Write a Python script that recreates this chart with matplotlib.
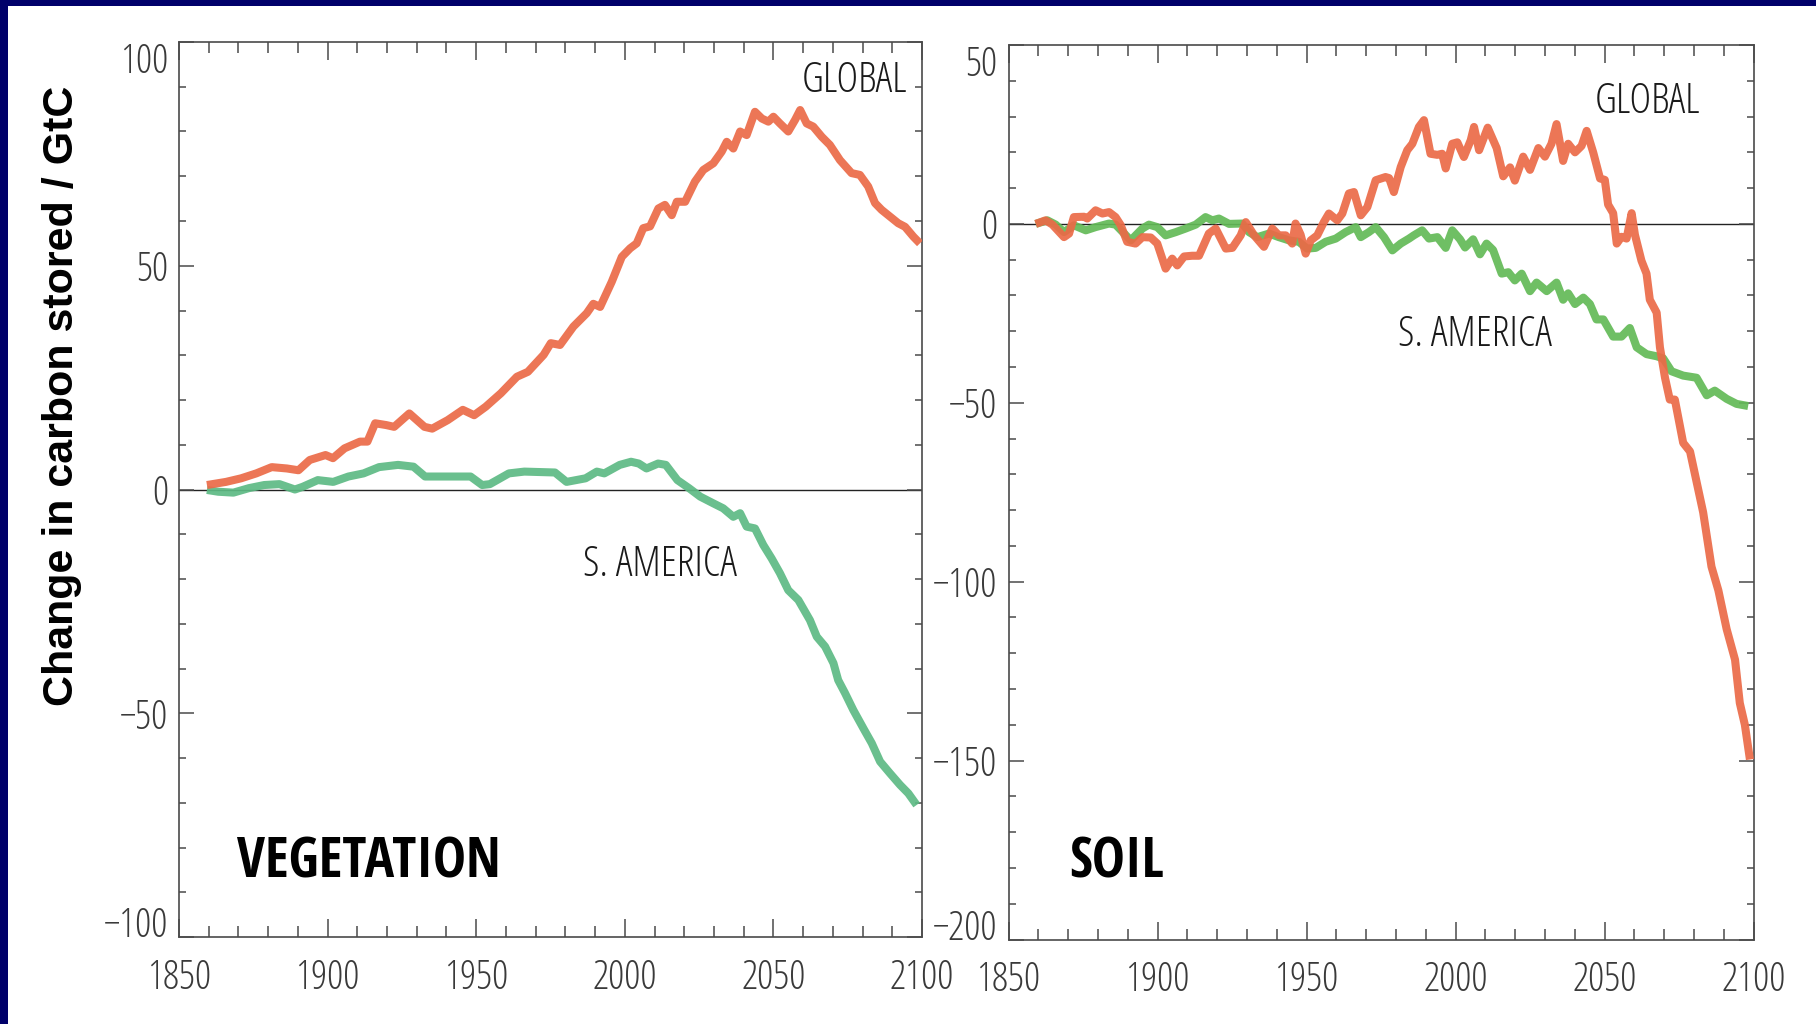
import matplotlib
matplotlib.use('Agg')
import matplotlib.pyplot as plt
from matplotlib.ticker import MultipleLocator
from matplotlib.patches import Rectangle

# ---------------- data ----------------
veg_global_years = [1859.4, 1865.8, 1870.9, 1876.0, 1881.2, 1886.3, 1890.2, 1894.0, 1899.3, 1901.8,
                    1905.7, 1910.9, 1913.4, 1916.0, 1919.7, 1922.4, 1927.5, 1932.6, 1935.2, 1940.4,
                    1945.5, 1949.3, 1953.2, 1958.3, 1963.7, 1967.4, 1972.7, 1975.1, 1978.2, 1982.7,
                    1987.2, 1989.4, 1991.7, 1995.6, 1999.0, 2001.8, 2004.0, 2006.2, 2008.5, 2011.3,
                    2013.5, 2015.8, 2017.5, 2020.3, 2023.6, 2026.4, 2029.8, 2032.6, 2034.3, 2036.5,
                    2038.8, 2041.0, 2043.8, 2046.1, 2048.3, 2050.0, 2052.2, 2055.0, 2057.3, 2059.0,
                    2061.2, 2063.4, 2066.3, 2069.0, 2072.4, 2076.3, 2079.1, 2081.9, 2084.2, 2086.4,
                    2089.2, 2092.0, 2094.3, 2097.1, 2099.3]
veg_global = [1.0, 1.7, 2.5, 3.6, 5.0, 4.7, 4.3, 6.6, 7.7, 7.0,
              9.2, 10.7, 10.7, 14.8, 14.4, 14.0, 17.0, 14.0, 13.6, 15.5,
              17.8, 16.6, 18.5, 21.5, 25.2, 26.3, 30.1, 32.7, 32.3, 36.4,
              39.4, 41.5, 40.8, 46.4, 52.0, 53.9, 55.0, 58.4, 58.8, 62.8,
              63.6, 61.3, 64.3, 64.3, 68.8, 71.4, 72.9, 75.5, 77.7, 76.2,
              80.0, 79.2, 84.4, 82.9, 82.2, 83.3, 81.8, 80.0, 82.6, 84.8,
              81.8, 81.1, 78.8, 77.0, 73.6, 70.7, 70.3, 67.7, 64.0, 62.5,
              61.0, 59.5, 58.7, 56.5, 55.0]

veg_sam_years = [1859.4, 1863.2, 1868.3, 1873.5, 1878.7, 1883.8, 1889.0, 1891.6, 1896.7, 1901.9,
                 1907.0, 1912.1, 1917.3, 1923.7, 1928.9, 1932.8, 1940.4, 1948.1, 1952.0, 1954.6,
                 1961.0, 1966.2, 1976.5, 1980.4, 1986.8, 1990.6, 1993.1, 1998.3, 2002.1, 2004.7,
                 2007.3, 2011.2, 2013.8, 2017.7, 2021.6, 2025.4, 2029.8, 2033.1, 2036.5, 2038.8,
                 2041.0, 2043.8, 2046.6, 2049.4, 2052.2, 2055.0, 2058.4, 2062.3, 2064.6, 2067.4,
                 2070.2, 2071.8, 2074.1, 2076.9, 2080.3, 2083.1, 2085.9, 2089.2, 2092.6, 2095.4,
                 2098.2]
veg_sam = [-0.1, -0.5, -0.7, 0.3, 1.0, 1.2, 0.0, 0.6, 2.1, 1.7,
           2.9, 3.6, 5.0, 5.5, 5.1, 2.9, 2.9, 2.9, 1.0, 1.2,
           3.6, 4.0, 3.8, 1.7, 2.5, 4.0, 3.6, 5.5, 6.2, 5.8,
           4.7, 5.8, 5.5, 2.1, 0.3, -1.6, -3.1, -4.2, -6.1, -5.3,
           -8.3, -8.7, -12.4, -15.4, -18.7, -22.5, -24.7, -29.2, -32.9, -35.1,
           -38.8, -42.6, -45.5, -49.3, -53.4, -56.7, -60.8, -63.4, -66.0, -67.9,
           -70.5]

soil_global_years = [1859.1, 1862.4, 1864.7, 1868.6, 1870.3, 1871.9, 1875.3, 1876.4, 1879.2, 1881.5,
                     1883.7, 1885.9, 1887.6, 1889.8, 1892.6, 1894.9, 1897.7, 1899.9, 1902.7, 1904.9,
                     1906.6, 1908.9, 1911.6, 1913.9, 1917.2, 1919.5, 1922.9, 1925.1, 1927.9, 1929.6,
                     1932.4, 1935.7, 1938.5, 1940.7, 1943.0, 1945.2, 1946.3, 1948.0, 1949.7, 1951.4,
                     1953.6, 1955.8, 1957.5, 1960.3, 1962.0, 1964.2, 1965.9, 1968.2, 1970.4, 1973.2,
                     1976.5, 1977.7, 1979.3, 1981.6, 1983.8, 1985.5, 1987.7, 1989.4, 1991.6, 1993.9,
                     1995.5, 1996.7, 1998.9, 2000.6, 2002.8, 2005.1, 2006.2, 2007.9, 2010.8, 2013.8,
                     2016.0, 2018.3, 2019.9, 2022.7, 2025.0, 2027.8, 2030.0, 2032.2, 2033.9, 2036.1,
                     2037.8, 2040.1, 2042.3, 2044.0, 2046.2, 2048.5, 2050.1, 2051.2, 2052.9, 2054.1,
                     2055.7, 2057.4, 2059.1, 2060.2, 2062.4, 2064.1, 2065.2, 2067.5, 2068.6, 2070.3,
                     2071.9, 2073.6, 2076.4, 2078.7, 2080.9, 2083.1, 2085.9, 2088.2, 2091.0, 2093.8,
                     2095.4, 2097.1, 2098.8]
soil_global = [0.0, 1.0, -0.2, -3.7, -2.7, 1.9, 2.0, 1.5, 3.8, 2.9,
               3.3, 1.9, -0.3, -5.0, -5.5, -3.7, -3.8, -5.5, -12.5, -9.7,
               -11.6, -9.1, -8.9, -8.9, -2.7, -1.3, -6.9, -6.7, -3.2, 0.5,
               -3.2, -6.4, -1.3, -3.2, -3.2, -5.5, 0.1, -3.0, -8.3, -4.6,
               -3.2, 0.5, 2.9, 1.0, 2.9, 8.5, 8.9, 2.4, 4.7, 12.2,
               13.1, 12.8, 8.9, 15.9, 20.6, 22.4, 27.1, 29.0, 19.6, 19.3,
               19.6, 15.5, 22.4, 22.8, 18.7, 23.4, 27.1, 20.6, 26.9, 21.2,
               13.3, 15.8, 12.1, 18.8, 15.1, 21.2, 18.8, 22.4, 27.9, 17.6,
               22.4, 20.0, 21.8, 26.0, 20.0, 12.7, 12.3, 5.4, 3.0, -5.5,
               -3.6, -4.1, 3.0, -3.0, -10.3, -13.9, -21.2, -24.8, -34.5, -43.0,
               -49.1, -49.1, -61.2, -63.6, -72.1, -80.6, -95.8, -102.4, -113.3, -121.8,
               -133.9, -140.0, -149.7]

soil_sam_years = [1859.1, 1863.0, 1865.8, 1868.6, 1871.9, 1875.9, 1879.2, 1883.7, 1885.9, 1891.0,
                  1894.9, 1897.1, 1899.9, 1902.7, 1906.1, 1909.4, 1912.8, 1916.1, 1918.4, 1920.6,
                  1924.0, 1928.4, 1930.7, 1933.5, 1937.4, 1940.7, 1944.1, 1947.4, 1950.2, 1953.1,
                  1956.4, 1959.8, 1963.1, 1966.5, 1968.2, 1970.9, 1973.2, 1976.0, 1978.8, 1981.6,
                  1984.4, 1986.0, 1988.8, 1991.1, 1993.9, 1996.7, 1998.9, 2001.5, 2003.2, 2005.9,
                  2008.2, 2010.4, 2012.6, 2015.5, 2017.7, 2019.9, 2022.2, 2025.0, 2027.2, 2030.6,
                  2033.9, 2036.1, 2037.8, 2040.1, 2042.9, 2045.1, 2047.3, 2049.6, 2052.9, 2055.7,
                  2058.5, 2060.8, 2064.1, 2067.5, 2069.7, 2072.5, 2076.4, 2080.9, 2084.3, 2087.0,
                  2091.0, 2094.3, 2098.2]
soil_sam = [0.0, 1.0, -0.2, -2.3, -0.4, -1.8, -0.9, 0.1, -0.2, -4.6,
            -1.3, -0.2, -0.9, -3.2, -2.3, -1.3, -0.2, 1.9, 1.0, 1.5,
            0.0, 0.1, -2.3, -3.7, -2.7, -3.7, -4.6, -5.0, -6.9, -6.7,
            -5.0, -4.1, -2.3, -0.9, -3.7, -2.3, -0.9, -3.7, -7.4, -5.5,
            -4.1, -3.2, -1.8, -4.1, -3.7, -6.7, -1.8, -4.3, -6.6, -4.3,
            -8.5, -5.5, -7.3, -13.9, -13.5, -15.8, -13.9, -18.8, -16.4, -18.8,
            -16.4, -21.2, -19.4, -22.4, -20.6, -22.4, -26.7, -26.7, -31.5, -31.5,
            -29.1, -34.5, -36.4, -37.0, -37.6, -41.2, -42.4, -43.0, -47.9, -46.6,
            -48.9, -50.3, -50.9]

x_range = [1850, 2100]
veg_yticks = [-100, -50, 0, 50, 100]
soil_yticks = [-200, -150, -100, -50, 0, 50]

# ---------------- styling ----------------
# thin condensed face for ticks and curve labels
plt.rcParams['font.family'] = ['Open Sans', 'DejaVu Sans']
plt.rcParams['font.weight'] = 300
plt.rcParams['font.stretch'] = 'condensed'
plt.rcParams['axes.unicode_minus'] = True

BOLD_NARROW = ['Open Sans Condensed', 'DejaVu Sans']
BOLD_FAM = ['Liberation Sans', 'DejaVu Sans']

RED = '#EB6A47'
VEG_GREEN = '#5DBA84'
SOIL_GREEN = '#63BA57'
AX_COL = '#4a4a4a'
LW = 5.8

W, H = 1816, 1024
fig = plt.figure(figsize=(W / 100, H / 100), dpi=100)
fig.patch.set_facecolor('white')


def fx(px):
    return px / W


def fy(py):
    return 1 - py / H


ax1 = fig.add_axes([fx(179), fy(937), fx(922) - fx(179), fy(42) - fy(937)])
ax2 = fig.add_axes([fx(1008.6), fy(939.5), fx(1753.5) - fx(1008.6), fy(45) - fy(939.5)])


def style(ax, yticks, ylim):
    ax.set_xlim(*x_range)
    ax.set_ylim(*ylim)
    ax.set_xticks([1850, 1900, 1950, 2000, 2050, 2100])
    ax.xaxis.set_minor_locator(MultipleLocator(10))
    ax.set_yticks(yticks)
    ax.yaxis.set_minor_locator(MultipleLocator(10))
    ax.tick_params(which='both', direction='in', top=True, right=True,
                   color=AX_COL, width=1.1, labelsize=29, labelcolor='#3a3a3a')
    ax.tick_params(axis='x', which='major', length=13, pad=15)
    ax.tick_params(axis='x', which='minor', length=8)
    ax.tick_params(axis='y', which='major', length=11, pad=8)
    ax.tick_params(axis='y', which='minor', length=5)
    for sp in ax.spines.values():
        sp.set_color(AX_COL)
        sp.set_linewidth(1.2)
    ax.axhline(0, color='#222222', lw=1.0, zorder=1)
    labs = ax.get_yticklabels()
    labs[0].set_va('baseline')
    labs[-1].set_va('top')


style(ax1, veg_yticks, (-100, 100))
style(ax2, soil_yticks, (-200, 50))

ax1.plot(veg_global_years, veg_global, color=RED, lw=LW, alpha=0.92, solid_capstyle='butt', zorder=3)
ax1.plot(veg_sam_years, veg_sam, color=VEG_GREEN, lw=LW, alpha=0.92, solid_capstyle='butt', zorder=2)
ax2.plot(soil_sam_years, soil_sam, color=SOIL_GREEN, lw=LW, alpha=0.92, solid_capstyle='butt', zorder=2)
ax2.plot(soil_global_years, soil_global, color=RED, lw=LW, alpha=0.92, solid_capstyle='butt', zorder=3)

# series labels
lab_kw = dict(ha='center', va='center', fontsize=30, color='#1a1a1a')
fig.text(fx(855), fy(81), 'GLOBAL', **lab_kw)
fig.text(fx(660), fy(565), 'S. AMERICA', **lab_kw)
fig.text(fx(1648), fy(102), 'GLOBAL', **lab_kw)
fig.text(fx(1475), fy(335), 'S. AMERICA', **lab_kw)

# panel titles
fig.text(fx(237), fy(878), 'VEGETATION', ha='left', va='baseline', fontsize=40,
         fontweight='bold', fontstretch='condensed', color='black', family=BOLD_NARROW)
fig.text(fx(1069), fy(878), 'SOIL', ha='left', va='baseline', fontsize=40,
         fontweight='bold', fontstretch='condensed', color='black', family=BOLD_NARROW)

# y axis label
fig.text(fx(62), fy(396), 'Change in carbon stored / GtC', rotation=90, ha='center',
         va='center', fontsize=31, fontweight='bold', fontstretch='normal',
         color='black', family=BOLD_FAM)

# navy frame (top and left edges)
fig.add_artist(Rectangle((0, fy(6)), 1, 6 / H, transform=fig.transFigure,
                         facecolor='#00006A', edgecolor='none'))
fig.add_artist(Rectangle((0, 0), 8 / W, 1, transform=fig.transFigure,
                         facecolor='#00006A', edgecolor='none'))

fig.savefig('out.png', dpi=100)
